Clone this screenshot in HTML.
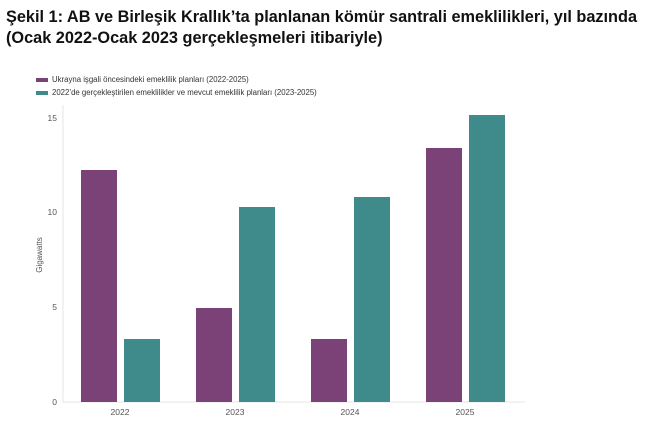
<!DOCTYPE html>
<html><head><meta charset="utf-8"><style>
body{margin:0;background:#fff;width:659px;height:431px;overflow:hidden;font-family:"Liberation Sans",sans-serif}
</style></head><body>
<svg width="659" height="431" xmlns="http://www.w3.org/2000/svg" font-family="Liberation Sans, sans-serif">
<text x="6" y="22" font-size="16.3" font-weight="bold" fill="#111">Şekil 1: AB ve Birleşik Krallık’ta planlanan kömür santrali emeklilikleri, yıl bazında</text>
<text x="6" y="43" font-size="16.3" font-weight="bold" fill="#111">(Ocak 2022-Ocak 2023 gerçekleşmeleri itibariyle)</text>
<rect x="36" y="78" width="12" height="4" fill="#7b4277"/>
<text x="52" y="82" font-size="7.8" fill="#333">Ukrayna işgali öncesindeki emeklilik planları (2022-2025)</text>
<rect x="36" y="91" width="12" height="4" fill="#3f8a8a"/>
<text x="52" y="95" font-size="7.8" fill="#333">2022’de gerçekleştirilen emeklilikler ve mevcut emeklilik planları (2023-2025)</text>
<line x1="63" y1="105" x2="63" y2="402" stroke="#e6e6e6"/>
<line x1="63" y1="402" x2="525" y2="402" stroke="#e6e6e6"/>
<g font-size="8.5" fill="#555" text-anchor="end">
<text x="57" y="121">15</text><text x="57" y="215">10</text><text x="57" y="310">5</text><text x="57" y="405">0</text>
</g>
<text transform="translate(42,255) rotate(-90)" font-size="8" fill="#555" text-anchor="middle">Gigawatts</text>
<g fill="#7b4277">
<rect x="81" y="170" width="36" height="232"/>
<rect x="196" y="308" width="36" height="94"/>
<rect x="311" y="339" width="36" height="63"/>
<rect x="426" y="148" width="36" height="254"/>
</g>
<g fill="#3f8a8a">
<rect x="124" y="339" width="36" height="63"/>
<rect x="239" y="207" width="36" height="195"/>
<rect x="354" y="197" width="36" height="205"/>
<rect x="469" y="115" width="36" height="287"/>
</g>
<g font-size="8.5" fill="#555" text-anchor="middle">
<text x="120" y="415">2022</text><text x="235" y="415">2023</text><text x="350" y="415">2024</text><text x="465" y="415">2025</text>
</g>
</svg>
</body></html>
